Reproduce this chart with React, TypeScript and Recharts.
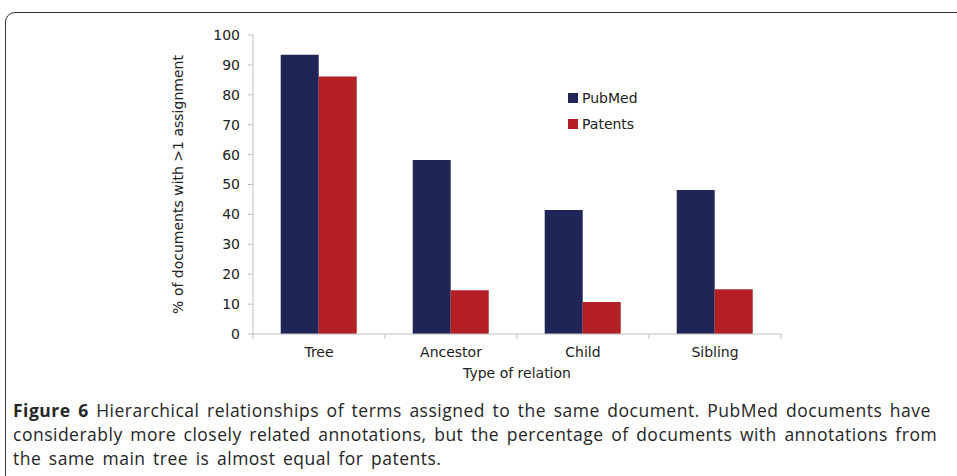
import { Bar, BarChart, XAxis, YAxis } from "recharts";

const categories = ["Tree", "Ancestor", "Child", "Sibling"];
const pubmed = [93.4, 58.2, 41.5, 48.2];
const patents = [86.1, 14.6, 10.7, 15.0];
const yTicks = [0, 10, 20, 30, 40, 50, 60, 70, 80, 90, 100];
const captionLines = [
  "Hierarchical relationships of terms assigned to the same document. PubMed documents have",
  "considerably more closely related annotations, but the percentage of documents with annotations from",
  "the same main tree is almost equal for patents.",
];

const NAVY = "#1f2556";
const RED = "#b31f24";
const AXIS = "#c0c0c0";
const FONT = "'DejaVu Sans', Verdana, sans-serif";

const data = categories.map((name, i) => ({
  name,
  PubMed: pubmed[i],
  Patents: patents[i],
}));

function CategoryTick(props: any) {
  const { x, y, payload, index } = props;
  const half = payload.offset || 0;
  return (
    <g>
      <line x1={x - half} y1={y - 8} x2={x - half} y2={y - 3} stroke={AXIS} />
      {index === categories.length - 1 && (
        <line x1={x + half} y1={y - 8} x2={x + half} y2={y - 3} stroke={AXIS} />
      )}
      <text x={x} y={y + 15} textAnchor="middle" fontSize={14} fill="#222" fontFamily={FONT}>
        {payload.value}
      </text>
    </g>
  );
}

function YLabel(props: any) {
  const { x, y, height } = props.viewBox;
  const cx = x + 28;
  const cy = y + height / 2;
  return (
    <text
      x={cx}
      y={cy}
      transform={`rotate(-90 ${cx} ${cy})`}
      textAnchor="middle"
      dominantBaseline="central"
      fontSize={14}
      fill="#222"
      fontFamily={FONT}
    >
      % of documents with &gt;1 assignment
    </text>
  );
}

function XLabel(props: any) {
  const { x, y, width } = props.viewBox;
  return (
    <text x={x + width / 2} y={y + 44} textAnchor="middle" fontSize={14} fill="#222" fontFamily={FONT}>
      Type of relation
    </text>
  );
}

function LegendBox() {
  const items = [
    { label: "PubMed", color: NAVY },
    { label: "Patents", color: RED },
  ];
  return (
    <div style={{ position: "absolute", left: 568, top: 85, fontFamily: FONT, fontSize: 14, color: "#222" }}>
      {items.map((it) => (
        <div key={it.label} style={{ display: "flex", alignItems: "center", height: 26 }}>
          <span style={{ width: 10, height: 10, background: it.color, marginRight: 4 }} />
          <span>{it.label}</span>
        </div>
      ))}
    </div>
  );
}

export default function App() {
  return (
    <div
      style={{
        position: "absolute",
        left: 0,
        top: 0,
        width: 957,
        height: 476,
        overflow: "hidden",
        background: "#fff",
      }}
    >
      <div
        style={{
          position: "absolute",
          left: 5,
          top: 12,
          width: 1000,
          height: 520,
          border: "1.5px solid #333",
          borderRadius: 10,
        }}
      />
      <div style={{ position: "absolute", left: 0, top: 0 }}>
        <BarChart
          width={957}
          height={390}
          data={data}
          margin={{ top: 35, right: 176, bottom: 26, left: 150 }}
          barCategoryGap="21%"
          barGap={0}
        >
          <YAxis
            width={103}
            domain={[0, 100]}
            ticks={yTicks}
            interval={0}
            stroke={AXIS}
            tickSize={5}
            tickMargin={8}
            tick={{ fontSize: 14, fill: "#222", fontFamily: FONT }}
            label={<YLabel />}
          />
          <XAxis
            dataKey="name"
            stroke={AXIS}
            tickLine={false}
            tick={<CategoryTick />}
            label={<XLabel />}
          />
          <Bar dataKey="PubMed" fill={NAVY} isAnimationActive={false} />
          <Bar dataKey="Patents" fill={RED} isAnimationActive={false} />
        </BarChart>
      </div>
      <LegendBox />
      <div
        style={{
          position: "absolute",
          left: 13,
          top: 398,
          fontFamily: "'Open Sans', Lato, sans-serif",
          fontSize: 17.5,
          lineHeight: "24px",
          letterSpacing: 0.5,
          wordSpacing: 2.5,
          color: "#262626",
          whiteSpace: "nowrap",
        }}
      >
        {captionLines.map((line, i) => (
          <div key={i}>
            {i === 0 && <b>Figure 6 </b>}
            {line}
          </div>
        ))}
      </div>
    </div>
  );
}
